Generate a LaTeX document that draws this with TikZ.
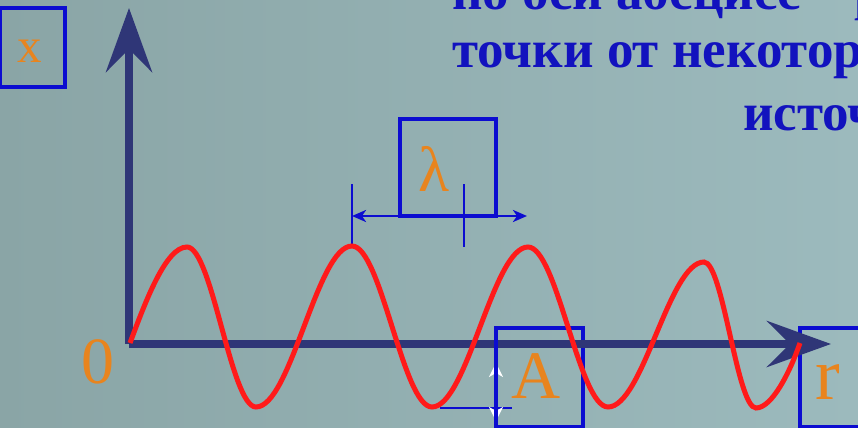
\documentclass[tikz,border=0pt]{standalone}
\usepackage{fontspec}
\setmainfont{Liberation Serif}
\usetikzlibrary{arrows.meta}
\definecolor{bgleft}{HTML}{8AA5A6}
\definecolor{bgright}{HTML}{9CBABD}
\definecolor{axisnavy}{HTML}{2F3677}
\definecolor{wavered}{HTML}{FF1A1A}
\definecolor{frameblue}{HTML}{0C0CD0}
\definecolor{headblue}{HTML}{1212BE}
\definecolor{letterorange}{HTML}{E8841E}
\tikzset{
  axis/.style={
    draw=axisnavy,
    fill=axisnavy,
    line width=4.2pt,
    -{Stealth[length=32pt, width=23pt, inset=11.5pt]}
  },
  wave/.style={
    draw=wavered,
    line width=2.5pt
  },
  framebox/.style={
    draw=frameblue,
    line width=1.6pt,
    anchor=north west,
    inner sep=0pt,
    outer sep=0pt
  },
  dimline/.style={
    draw=frameblue,
    line width=1.3pt
  },
  dimarrow/.style={
    dimline,
    {Stealth[length=7pt, width=6pt, inset=2pt]}-{Stealth[length=7pt, width=6pt, inset=2pt]}
  },
  amparrow/.style={
    draw=white,
    line width=0.8pt,
    {Stealth[length=7pt, width=7pt, inset=2pt]}-{Stealth[length=7pt, width=7pt, inset=2pt]}
  },
  letter/.style={
    text=letterorange,
    inner sep=0pt,
    anchor=base
  },
  headline/.style={
    text=headblue,
    font=\fontsize{26.5}{30}\selectfont\bfseries,
    inner sep=0pt,
    anchor=base west
  }
}

\begin{document}
\begin{tikzpicture}[x=0.5pt, y=-0.5pt]

\useasboundingbox (0,0) rectangle (858,428);
\clip (0,0) rectangle (858,428);
\shade[left color=bgleft, right color=bgright] (0,0) rectangle (858,428);

% ---------------------------------------------------------------------------
% 1. Heading (cut by the slide edge)
% ---------------------------------------------------------------------------
\node[headline] (head1) at (452,10) {по оси абсцисс – р};
\node[headline] (head2) at (452,68) {точки от некотор};
\node[headline] (head3) at (743,130) {источ};

% ---------------------------------------------------------------------------
% 2. Label frames
% ---------------------------------------------------------------------------
\node[framebox, minimum width=32.5pt, minimum height=39.5pt] (xbox) at (0,8) {};
\node[framebox, minimum width=48pt, minimum height=48.5pt] (lambox) at (400,119) {};
\node[framebox, minimum width=43.5pt, minimum height=49.5pt] (abox) at (496,328) {};
\node[framebox, minimum width=45pt, minimum height=49.5pt] (rbox) at (800,328) {};

% ---------------------------------------------------------------------------
% 3. Axes
% ---------------------------------------------------------------------------
\coordinate (O) at (129,344);
\coordinate (xtip) at (129,8);
\coordinate (rtip) at (831,344);
\draw[axis] (O) -- (xtip);
\draw[axis] (O) -- (rtip);

% ---------------------------------------------------------------------------
% 4. Wavelength and amplitude marks
% ---------------------------------------------------------------------------
\coordinate (lamL) at (352,216);
\coordinate (lamR) at (527,216);
\draw[dimline] (352,184) -- (352,247);
\draw[dimline] (464,184) -- (464,247);
\draw[dimarrow] (lamL) -- (lamR);

\coordinate (ampL) at (440,408);
\coordinate (ampR) at (512,408);
\draw[dimline] (ampL) -- (ampR);
\coordinate (ampTop) at (496,363);
\coordinate (ampBot) at (496,421);
\draw[amparrow] (ampTop) -- (ampBot);
% the frame edge covers the shaft of the amplitude arrow
\draw[dimline, line width=1.6pt] (abox.north west) -- (abox.south west);

% ---------------------------------------------------------------------------
% 5. Wave
% ---------------------------------------------------------------------------
\draw[wave] (130,343)
  .. controls (146,300) and (166,247) .. (187,247)
  .. controls (212,247) and (231,407) .. (256,407)
  .. controls (291,407) and (317,246) .. (352,246)
  .. controls (381,246) and (403,407) .. (432,407)
  .. controls (467,407) and (493,247) .. (528,247)
  .. controls (557,247) and (579,407) .. (608,407)
  .. controls (643,407) and (669,262) .. (704,262)
  .. controls (723,262) and (737,408) .. (756,408)
  .. controls (772,408) and (790,372) .. (800,343);

% ---------------------------------------------------------------------------
% 6. Letters
% ---------------------------------------------------------------------------
\node[letter, font=\fontsize{24.5}{24.5}\selectfont] (xlab) at (30,62) {x};
\node[letter, font=\fontsize{32}{32}\selectfont] (lamlab) at (434,191) {λ};
\node[letter, font=\fontsize{34}{34}\selectfont] (alab) at (536,398) {A};
\node[letter, font=\fontsize{37}{37}\selectfont] (rlab) at (828,399) {r};
\node[letter, font=\fontsize{33}{33}\selectfont] (zerolab) at (98,383) {0};

\end{tikzpicture}
\end{document}
